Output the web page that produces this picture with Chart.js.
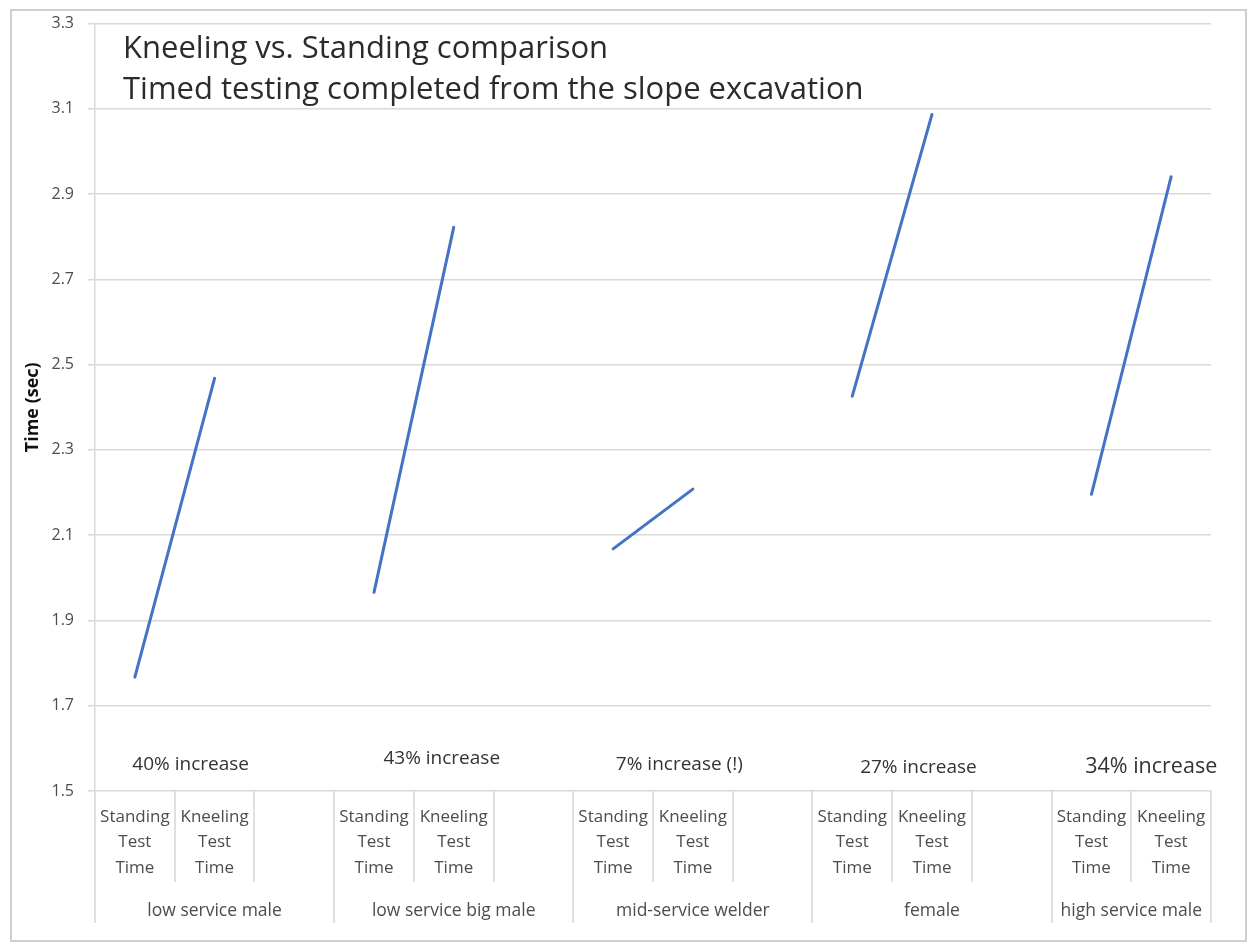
<!DOCTYPE html>
<html>
<head>
<meta charset="utf-8">
<script src="https://cdn.jsdelivr.net/npm/chart.js@4.4.1/dist/chart.umd.min.js"></script>
<style>
  html, body { margin: 0; padding: 0; background: #ffffff; }
  #wrap { position: relative; width: 1250px; height: 943px; }
</style>
</head>
<body>
<div id="wrap"><canvas id="chart" width="1250" height="943"></canvas></div>
<script>
// Groups of testers and the two timed positions measured for each
const groups = ['low service male', 'low service big male', 'mid-service welder', 'female', 'high service male'];
const measureLabels = [['Standing', 'Test', 'Time'], ['Kneeling', 'Test', 'Time']];

// Test times in seconds
const standingTimes = [1.767, 1.966, 2.068, 2.426, 2.196];
const kneelingTimes = [2.468, 2.822, 2.208, 3.087, 2.941];

// Notes written under each group's pair of times
const increaseNotes = ['40% increase', '43% increase', '7% increase (!)', '27% increase', '34% increase'];

// Value axis
const yTickValues = [1.5, 1.7, 1.9, 2.1, 2.3, 2.5, 2.7, 2.9, 3.1, 3.3];
const yAxisTitle = 'Time (sec)';
const titleLines = ['Kneeling vs. Standing comparison', 'Timed testing completed from the slope excavation'];

// Where each note sits: offset in categories from the group's first column, and height in seconds
const noteLayout = [
  { dx: 0.70, y: 1.563, size: 19 },
  { dx: 0.85, y: 1.575, size: 19 },
  { dx: 0.83, y: 1.561, size: 19 },
  { dx: 0.83, y: 1.556, size: 19 },
  { dx: 0.75, y: 1.556, size: 21.5 }
];

// Build the category columns: Standing, Kneeling and an empty spacer between groups
const categoryLabels = [];
const timeSeries = [];
const groupStart = [];
groups.forEach((g, i) => {
  groupStart.push(categoryLabels.length);
  categoryLabels.push(measureLabels[0], measureLabels[1]);
  timeSeries.push(standingTimes[i], kneelingTimes[i]);
  if (i < groups.length - 1) {
    categoryLabels.push('');
    timeSeries.push(null);
  }
});

const FONT = "'Open Sans', 'Noto Sans', sans-serif";
Chart.defaults.font.family = FONT;

const sheetDecor = {
  id: 'sheetDecor',
  beforeDraw(chart) {
    const ctx = chart.ctx;
    ctx.save();
    ctx.fillStyle = '#ffffff';
    ctx.fillRect(0, 0, chart.width, chart.height);
    ctx.strokeStyle = '#cfcfcf';
    ctx.lineWidth = 2;
    ctx.strokeRect(11, 10, 1235, 931);
    ctx.restore();
  },
  afterDraw(chart) {
    const { ctx, chartArea: area, scales: { x, y } } = chart;
    ctx.save();

    // Chart title inside the plot
    ctx.fillStyle = '#2b2b2b';
    ctx.font = '31px ' + FONT;
    ctx.textAlign = 'left';
    ctx.textBaseline = 'alphabetic';
    ctx.fillText(titleLines[0], area.left + 28, 58);
    ctx.fillText(titleLines[1], area.left + 28, 99);

    // Increase notes
    ctx.textAlign = 'center';
    ctx.textBaseline = 'middle';
    increaseNotes.forEach((txt, i) => {
      const L = noteLayout[i];
      ctx.font = L.size + 'px ' + FONT;
      ctx.fillStyle = '#333333';
      ctx.fillText(txt, x.getPixelForValue(groupStart[i] + L.dx), y.getPixelForValue(L.y));
    });

    // Dividers of the two-level category axis
    const n = categoryLabels.length;
    const bounds = new Set(groupStart.concat([n]));
    ctx.strokeStyle = '#d6d6d6';
    ctx.lineWidth = 1.5;
    for (let b = 0; b <= n; b++) {
      const px = Math.round(x.getPixelForValue(b - 0.5));
      const bottom = bounds.has(b) ? area.bottom + 132 : area.bottom + 91;
      ctx.beginPath();
      ctx.moveTo(px, area.bottom);
      ctx.lineTo(px, bottom);
      ctx.stroke();
    }

    // Group names
    ctx.fillStyle = '#4d4d4d';
    ctx.font = '17.5px ' + FONT;
    groups.forEach((g, i) => {
      const first = groupStart[i];
      const last = i < groups.length - 1 ? groupStart[i + 1] : n;
      const cx = (x.getPixelForValue(first - 0.5) + x.getPixelForValue(last - 0.5)) / 2;
      ctx.fillText(g, cx, area.bottom + 120);
    });
    ctx.restore();
  }
};

new Chart(document.getElementById('chart'), {
  type: 'line',
  data: {
    labels: categoryLabels,
    datasets: [{
      data: timeSeries,
      borderColor: '#4472C4',
      borderWidth: 3,
      pointRadius: 0,
      spanGaps: false,
      tension: 0,
      borderCapStyle: 'round'
    }]
  },
  options: {
    responsive: false,
    animation: false,
    devicePixelRatio: 1,
    layout: { padding: { left: 12, right: 39, top: 23, bottom: 0 } },
    plugins: { legend: { display: false }, tooltip: { enabled: false }, title: { display: false } },
    scales: {
      x: {
        type: 'category',
        offset: true,
        grid: { display: false, drawTicks: false },
        border: { display: false },
        ticks: {
          autoSkip: false, maxRotation: 0, minRotation: 0, padding: 13,
          color: '#4d4d4d',
          font: { family: FONT, size: 17, lineHeight: 1.5 }
        },
        afterFit(s) { s.height = 152; }
      },
      y: {
        min: 1.5, max: 3.3,
        afterBuildTicks(s) { s.ticks = yTickValues.map(v => ({ value: v })); },
        ticks: {
          padding: 14, color: '#4d4d4d',
          font: { family: FONT, size: 16 },
          callback: v => Number(v).toFixed(1)
        },
        grid: { color: '#d9d9d9', lineWidth: 1.5, tickLength: 7 },
        border: { display: true, color: '#d9d9d9', width: 1.5 },
        title: {
          display: true, text: yAxisTitle, color: '#111111',
          font: { family: FONT, size: 18, weight: 'bold' },
          padding: { top: 10, bottom: 0 }
        },
        afterFit(s) { s.width = 83; }
      }
    }
  },
  plugins: [sheetDecor]
});
</script>
</body>
</html>
